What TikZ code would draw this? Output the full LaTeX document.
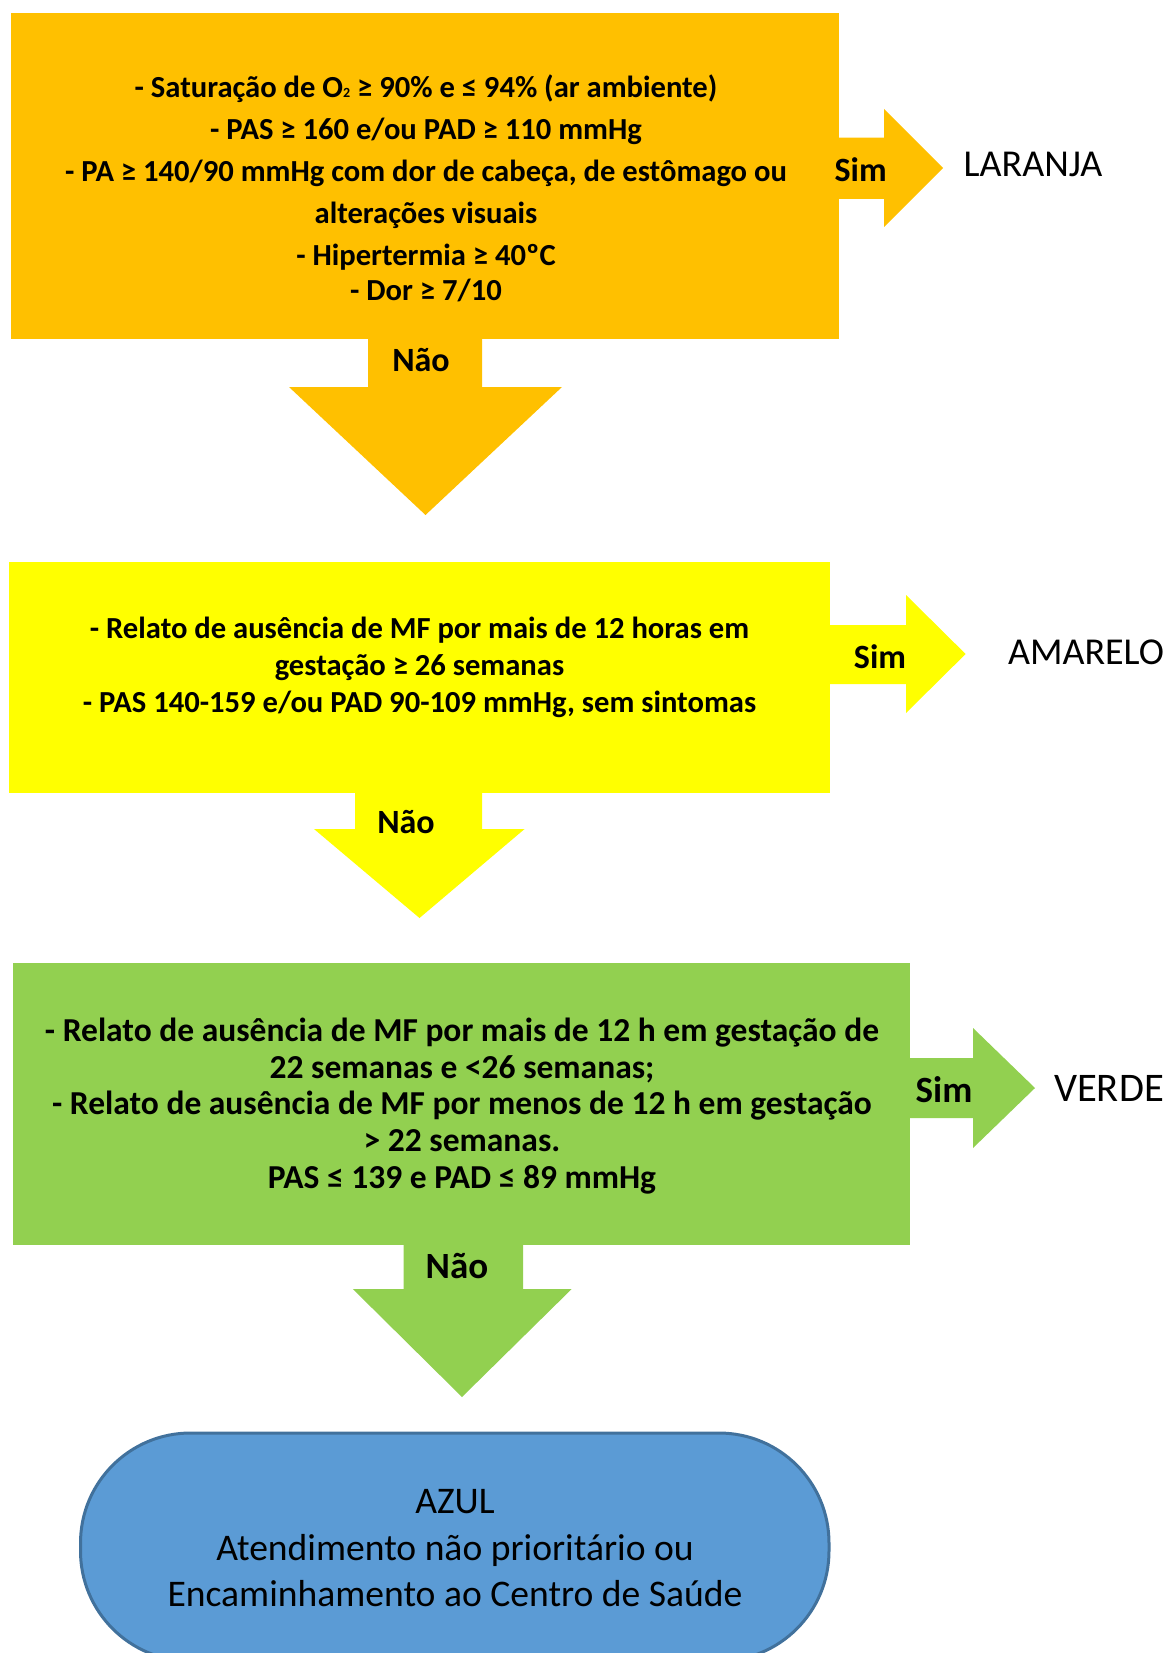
\documentclass[tikz,border=0pt]{standalone}
\usepackage{fontspec}
\setmainfont{Carlito}
\definecolor{orng}{HTML}{FFC000}
\definecolor{ylw}{HTML}{FFFF00}
\definecolor{grn}{HTML}{92D050}
\definecolor{blu}{HTML}{5B9BD5}
\definecolor{bluedge}{HTML}{41719C}
\newcommand{\tinytwo}{{\fontsize{7}{7}\selectfont 2}}
\begin{document}
\begin{tikzpicture}[x=0.5pt,y=-0.5pt,
  body/.style={align=center, inner sep=0pt, font=\fontsize{15.3}{21}\selectfont\bfseries},
  lbl/.style={inner sep=0pt, font=\fontsize{17}{19}\selectfont\bfseries},
  cls/.style={inner sep=0pt, font=\fontsize{19}{21}\selectfont},
  endtxt/.style={align=center, inner sep=0pt, font=\fontsize{18.8}{23.25}\selectfont}]
\useasboundingbox (0,0) rectangle (1166,1653);
\begin{scope}
\clip (0,0) rectangle (1166,1653);
% ---------- orange ----------
\fill[orng] (11,12.9) rectangle (839,339);
\fill[orng] (830,137.6) -- (884,137.6) -- (884,109) -- (943,168) -- (884,227) -- (884,198.8) -- (830,198.8) -- cycle;
\fill[orng] (368,330) -- (482,330) -- (482,387) -- (562,387) -- (425.5,515) -- (289,387) -- (368,387) -- cycle;
\node[body] (t1) at (426,188) {- Saturação de O\tinytwo{} ≥ 90\% e ≤ 94\% (ar ambiente)\\
- PAS ≥ 160 e/ou PAD ≥ 110 mmHg\\
- PA ≥ 140/90 mmHg com dor de cabeça, de estômago ou\\
alterações visuais\\
- Hipertermia ≥ 40ºC\\[-3.5pt]
- Dor ≥ 7/10};
\node[lbl] (s1) at (860.6,169.5) {Sim};
\node[cls] (c1) at (1033,164) {LARANJA};
\node[lbl] (n1) at (421,360) {Não};
% ---------- yellow ----------
\fill[ylw] (9,561.7) rectangle (829.6,793.3);
\fill[ylw] (820,625) -- (906,625) -- (906,595) -- (965.6,654) -- (906,713) -- (906,684) -- (820,684) -- cycle;
\fill[ylw] (355,785) -- (482,785) -- (482,829) -- (524.6,829) -- (419.5,918) -- (314,829) -- (355,829) -- cycle;
\node[body, font=\fontsize{15.3}{18.5}\selectfont\bfseries] (t2) at (419.5,667) {- Relato de ausência de MF por mais de 12 horas em\\
gestação ≥ 26 semanas\\
- PAS 140-159 e/ou PAD 90-109 mmHg, sem sintomas};
\node[lbl] (s2) at (880,657) {Sim};
\node[cls] (c2) at (1086,652) {AMARELO};
\node[lbl] (n2) at (406,822) {Não};
% ---------- green ----------
\fill[grn] (12.7,963) rectangle (910,1245);
\fill[grn] (900,1058) -- (973,1058) -- (973,1028) -- (1035,1088) -- (973,1148) -- (973,1118) -- (900,1118) -- cycle;
\fill[grn] (403.6,1240) -- (523,1240) -- (523,1289) -- (571.7,1289) -- (462,1397) -- (352.8,1289) -- (403.6,1289) -- cycle;
\node[body, font=\fontsize{16.75}{18.4}\selectfont\bfseries] (t3) at (462,1106) {- Relato de ausência de MF por mais de 12 h em gestação de\\
22 semanas e <26 semanas;\\
- Relato de ausência de MF por menos de 12 h em gestação\\
> 22 semanas.\\
PAS ≤ 139 e PAD ≤ 89 mmHg};
\node[lbl, font=\fontsize{18.5}{20}\selectfont\bfseries] (s3) at (944,1090) {Sim};
\node[cls, font=\fontsize{20.3}{22}\selectfont] (c3) at (1109,1088) {VERDE};
\node[lbl, font=\fontsize{18.5}{20}\selectfont\bfseries] (n3) at (457,1266) {Não};
% ---------- blue ----------
\draw[fill=blu, draw=bluedge, line width=1.5pt, rounded corners=55pt] (80.5,1433) rectangle (829,1661);
\node[endtxt] (t4) at (455,1548.5) {AZUL\\
Atendimento não prioritário ou\\
Encaminhamento ao Centro de Saúde};
\end{scope}
\end{tikzpicture}
\end{document}
